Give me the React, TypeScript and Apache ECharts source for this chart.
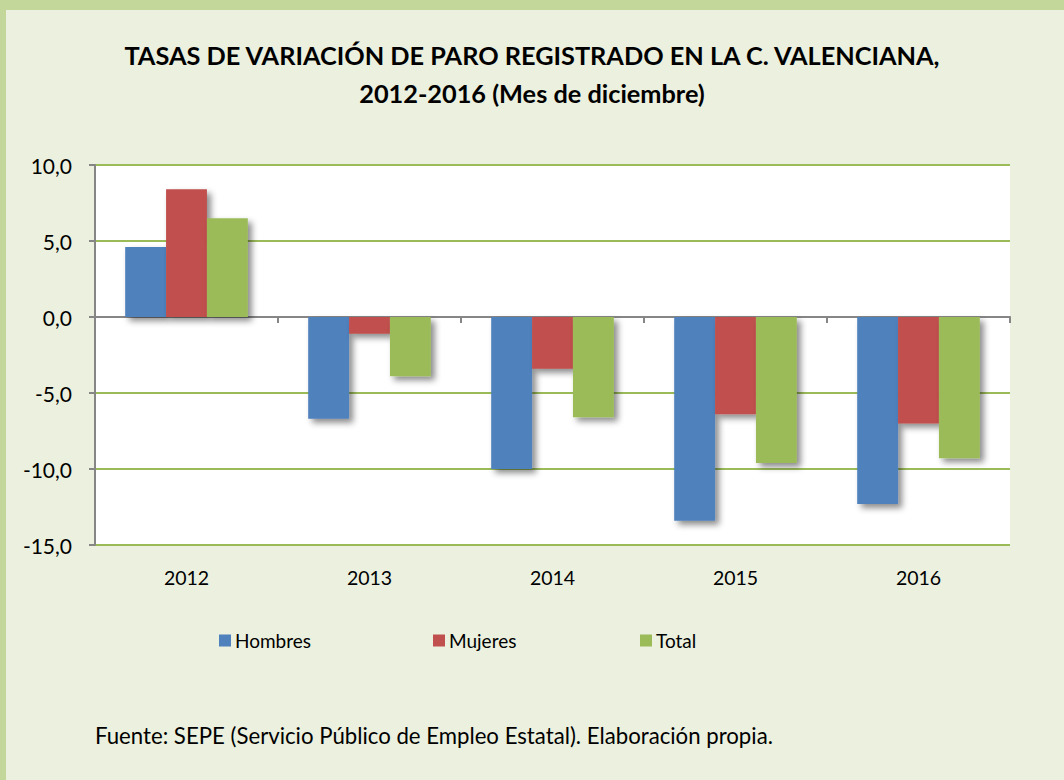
import React, { useEffect, useRef } from "react";
import * as echarts from "echarts";

const categories = ["2012", "2013", "2014", "2015", "2016"];
const hombres = [4.6, -6.7, -10.0, -13.4, -12.3];
const mujeres = [8.4, -1.1, -3.4, -6.4, -7.0];
const total = [6.5, -3.9, -6.6, -9.6, -9.3];
const seriesNames = ["Hombres", "Mujeres", "Total"];
const colors = ["#4F81BD", "#C0504D", "#9BBB59"];
const yMin = -15;
const yMax = 10;
const yInterval = 5;

const titleLines = [
  "TASAS DE VARIACIÓN DE PARO REGISTRADO EN LA C. VALENCIANA,",
  "2012-2016 (Mes de diciembre)",
];
const sourceText = "Fuente: SEPE (Servicio Público de Empleo Estatal). Elaboración propia.";

const FONT = "Lato, 'Open Sans', sans-serif";

export default function App() {
  const ref = useRef<HTMLDivElement>(null);
  useEffect(() => {
    if (!ref.current) return;
    const chart = echarts.init(ref.current, null, { renderer: "svg" });
    const data = [hombres, mujeres, total];
    const legendLefts = [214, 428, 635];
    chart.setOption({
      animation: false,
      backgroundColor: "#EBF0DF",
      textStyle: { fontFamily: FONT },
      title: {
        text: titleLines.join("\n"),
        left: "center",
        top: 31,
        textStyle: {
          fontFamily: FONT,
          fontWeight: "bold",
          fontSize: 25.3,
          lineHeight: 38,
          color: "#000",
        },
      },
      legend: seriesNames.map((n, i) => ({
        data: [n],
        left: legendLefts[i],
        top: 626,
        itemWidth: 12,
        itemHeight: 12,
        itemGap: 4,
        icon: "rect",
        textStyle: { fontFamily: FONT, fontSize: 19, color: "#000", padding: [0, 0, 0, -1] },
      })),
      grid: { left: 95, right: 54, top: 165, bottom: 235, backgroundColor: "#fff", show: true, borderWidth: 0 },
      xAxis: [
        {
          type: "category",
          data: categories,
          position: "bottom",
          axisLine: { onZero: true, lineStyle: { color: "#868686", width: 2 } },
          axisTick: { show: true, length: 6, lineStyle: { color: "#868686", width: 2 } },
          axisLabel: { show: false },
        },
        {
          type: "category",
          data: categories,
          position: "bottom",
          axisLine: { show: false, onZero: false },
          axisTick: { show: false },
          axisLabel: { show: true, margin: 22, fontSize: 19.5, color: "#000", fontFamily: FONT },
        },
      ],
      yAxis: {
        type: "value",
        min: yMin,
        max: yMax,
        interval: yInterval,
        axisLine: { show: true, lineStyle: { color: "#868686", width: 2 } },
        axisTick: { show: true, length: 6, lineStyle: { color: "#868686", width: 2 } },
        axisLabel: {
          fontSize: 21,
          color: "#000",
          margin: 23,
          fontFamily: FONT,
          formatter: (v: number) => v.toFixed(1).replace(".", ","),
        },
        splitLine: { show: true, lineStyle: { color: "#9BBB59", width: 2 } },
      },
      series: seriesNames.map((n, i) => ({
        name: n,
        type: "bar",
        data: data[i],
        barGap: "0%",
        barCategoryGap: "33%",
        itemStyle: {
          color: colors[i],
          shadowColor: "rgba(0,0,0,0.45)",
          shadowBlur: 6,
          shadowOffsetX: 4,
          shadowOffsetY: 4,
        },
      })),
      graphic: [
        { type: "rect", left: 0, top: 0, shape: { width: 6, height: 780 }, style: { fill: "#C4D79B" }, silent: true },
        { type: "rect", left: 0, top: 0, shape: { width: 1064, height: 10 }, style: { fill: "#C4D79B" }, silent: true },
        {
          type: "text",
          left: 95,
          top: 724,
          style: { text: sourceText, fontSize: 22.2, fill: "#000", fontFamily: FONT },
        },
      ],
    });
    return () => chart.dispose();
  }, []);
  return <div ref={ref} style={{ position: "fixed", left: 0, top: 0, width: 1064, height: 780 }} />;
}
